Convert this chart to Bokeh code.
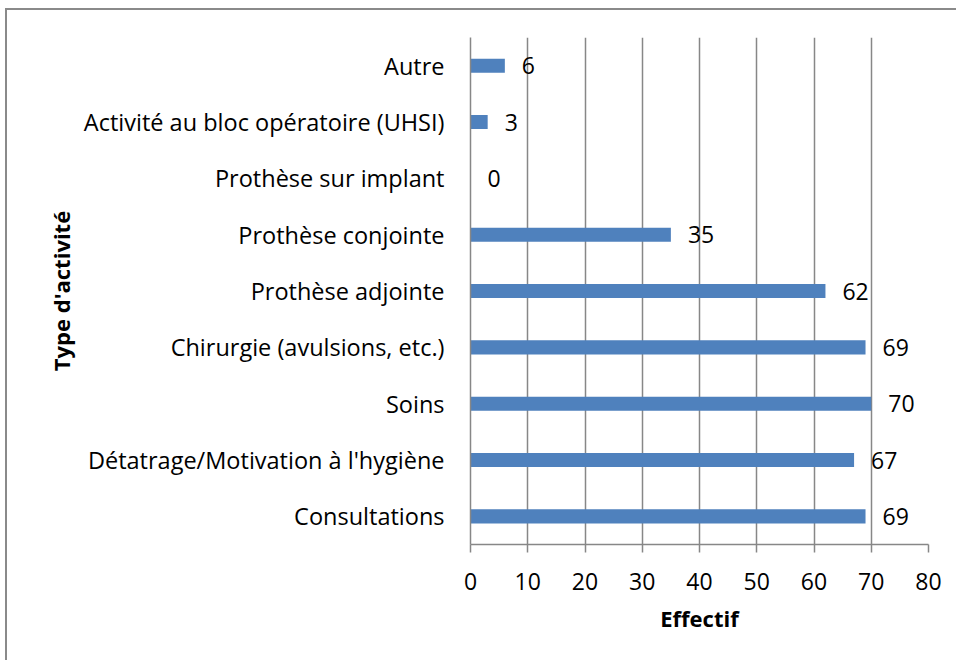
from bokeh.plotting import figure
from bokeh.models import ColumnDataSource, Range1d, FactorRange, FixedTicker
from bokeh.core.properties import value
from bokeh.embed import file_html
from bokeh.resources import INLINE

# Data (bottom to top as shown in the chart)
categories = [
    "Consultations",
    "Détatrage/Motivation à l'hygiène",
    "Soins",
    "Chirurgie (avulsions, etc.)",
    "Prothèse adjointe",
    "Prothèse conjointe",
    "Prothèse sur implant",
    "Activité au bloc opératoire (UHSI)",
    "Autre",
]
counts = [69, 67, 70, 69, 62, 35, 0, 3, 6]
x_ticks = [0, 10, 20, 30, 40, 50, 60, 70, 80]
x_title = "Effectif"
y_title = "Type d'activité"

FONT = "Open Sans"
GRID = "#878787"

src = ColumnDataSource(dict(cat=categories, val=counts, lab=[str(v) for v in counts]))

p = figure(
    y_range=FactorRange(factors=categories, range_padding=0),
    x_range=Range1d(0, 80),
    frame_width=458, frame_height=507,
    min_border_left=463, min_border_top=27, min_border_right=28, min_border_bottom=116,
    output_backend="svg", toolbar_location=None,
)
p.styles = {"border-left": "2px solid #8a8a8a", "border-top": "2px solid #8a8a8a",
            "margin-left": "5px", "margin-top": "8px"}
p.outline_line_color = None
p.background_fill_color = "white"
p.border_fill_color = "white"

p.hbar(y="cat", left=0, right="val", height=0.25, source=src,
       fill_color="#4F81BD", line_color=None)
p.text(x="val", y="cat", text="lab", source=src, x_offset=17,
       text_align="left", text_baseline="middle",
       text_font=value(FONT), text_font_size="23px", text_color="black")

p.ygrid.grid_line_color = None
p.xgrid.grid_line_color = GRID
p.xgrid.grid_line_width = 1.5
p.xaxis.ticker = FixedTicker(ticks=x_ticks)

for ax in (p.xaxis[0], p.yaxis[0]):
    ax.axis_line_color = GRID
    ax.axis_line_width = 1.5
    ax.major_tick_line_color = GRID
    ax.major_tick_line_width = 1.5
    ax.minor_tick_line_color = None
    ax.major_label_text_font = FONT
    ax.major_label_text_font_size = "23.5px"
    ax.major_label_text_color = "black"
    ax.axis_label_text_font = FONT
    ax.axis_label_text_font_size = "22px"
    ax.axis_label_text_font_style = "bold"
    ax.axis_label_text_color = "black"

p.xaxis.major_label_text_font_size = "23px"
p.xaxis.major_tick_out = 8
p.xaxis.major_tick_in = 0
p.xaxis.major_label_standoff = 20
p.xaxis.axis_label = x_title
p.xaxis.axis_label_standoff = 10

p.yaxis.major_tick_out = 0
p.yaxis.major_tick_in = 0
p.yaxis.major_label_standoff = 26
p.yaxis.axis_label = y_title
p.yaxis.axis_label_standoff = 5

open("out.html", "w").write(file_html(p, INLINE))
